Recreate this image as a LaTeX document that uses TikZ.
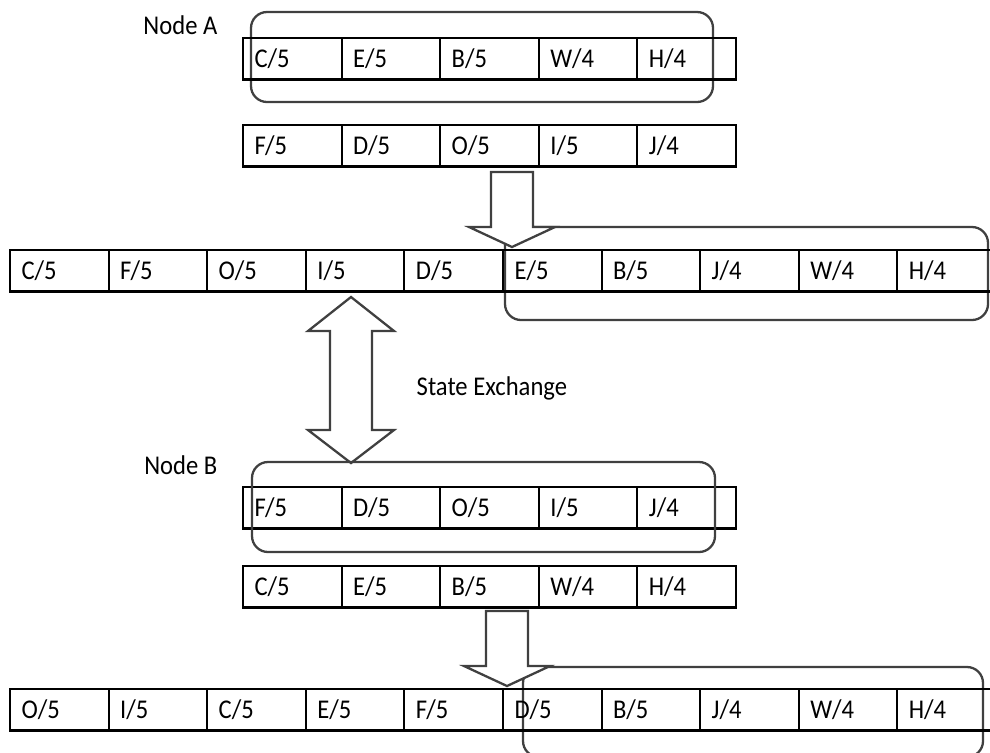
\documentclass[tikz,border=0pt]{standalone}
\usepackage{fontspec}
\setmainfont{Carlito}
\usetikzlibrary{positioning}

% slightly tall lettering
\newcommand{\tall}[1]{\scalebox{1}[1.1]{#1}}

\tikzset{
  cell/.style={draw, line width=0.6pt, anchor=north west, outer sep=0pt,
    minimum height=4.15mm, text width=7.56mm, inner xsep=1.15mm, inner ysep=0pt,
    align=left, font=\fontsize{7}{8}\selectfont},
  group/.style={draw=black!75, line width=0.65pt, rounded corners=1.6mm},
  bigarrow/.style={draw=black!75, fill=white, line width=0.65pt, line join=miter},
  tag/.style={font=\fontsize{7}{8}\selectfont, inner sep=0pt}
}

\begin{document}
\begin{tikzpicture}[x=0.1mm, y=-0.1mm]
\useasboundingbox (0,0) rectangle (990,752);

% node A and its two lists
\node[tag, anchor=east] (nameA) at (218,25) {\tall{Node A}};
\draw[group] (251,12) rectangle (713,102);
\foreach \ltr/\num [count=\i] in {C/5,E/5,B/5,W/4,H/4}
  \node[cell] (a\i) at ({243+(\i-1)*98.6},38) {\tall{\ltr/\num}};
\foreach \ltr/\num [count=\i] in {F/5,D/5,O/5,I/5,J/4}
  \node[cell] (b\i) at ({243+(\i-1)*98.6},125) {\tall{\ltr/\num}};

% merged list after A
\draw[group] (505,227) rectangle (988,320);
\draw[bigarrow] (491,172) -- (533,172) -- (533,227) -- (555,227) -- (512,247)
  -- (469,227) -- (491,227) -- cycle;
\foreach \ltr/\num [count=\i] in {C/5,F/5,O/5,I/5,D/5,E/5,B/5,J/4,W/4,H/4}
  \node[cell] (m\i) at ({10+(\i-1)*98.6},250) {\tall{\ltr/\num}};

% exchange between the nodes
\draw[bigarrow] (351,297) -- (394,331) -- (372,331) -- (372,430) -- (394,430)
  -- (351,463) -- (308,430) -- (330,430) -- (330,331) -- (308,331) -- cycle;
\node[tag, anchor=west] (xchg) at (416,388) {\tall{State Exchange}};

% node B and its two lists
\node[tag, anchor=east] (nameB) at (218,465) {\tall{Node B}};
\foreach \ltr/\num [count=\i] in {F/5,D/5,O/5,I/5,J/4}
  \node[cell] (c\i) at ({243+(\i-1)*98.6},487) {\tall{\ltr/\num}};
\draw[group] (252,462) rectangle (715,552);
\foreach \ltr/\num [count=\i] in {C/5,E/5,B/5,W/4,H/4}
  \node[cell] (d\i) at ({243+(\i-1)*98.6},566) {\tall{\ltr/\num}};

% merged list after B
\draw[group] (523,667) rectangle (983,757);
\draw[bigarrow] (486,611) -- (528,611) -- (528,666) -- (550,666) -- (507,686)
  -- (464,666) -- (486,666) -- cycle;
\foreach \ltr/\num [count=\i] in {O/5,I/5,C/5,E/5,F/5,D/5,B/5,J/4,W/4,H/4}
  \node[cell] (n\i) at ({10+(\i-1)*98.6},689) {\tall{\ltr/\num}};
\end{tikzpicture}
\end{document}
